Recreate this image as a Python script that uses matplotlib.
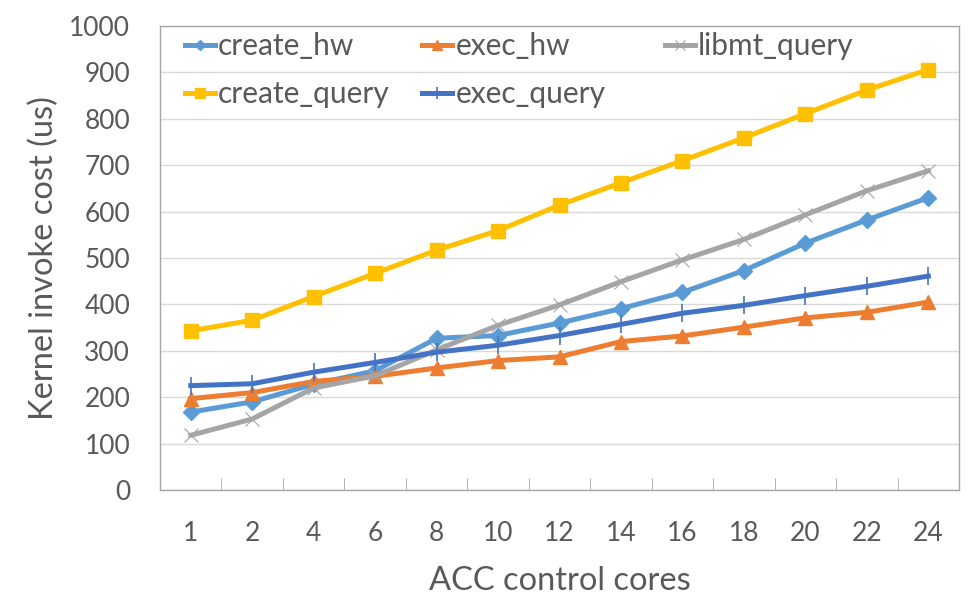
import numpy as np
import matplotlib
matplotlib.use("Agg")
import matplotlib.pyplot as plt

# ACC control cores (categorical x axis)
cores = ["1", "2", "4", "6", "8", "10", "12", "14", "16", "18", "20", "22", "24"]

create_hw = [168, 190, 228, 257, 327, 333, 360, 391, 426, 473, 532, 582, 630]
exec_hw = [197, 210, 234, 245, 263, 279, 287, 320, 332, 351, 371, 383, 405]
libmt_query = [118, 153, 220, 246, 302, 355, 399, 449, 496, 540, 593, 645, 688]
create_query = [343, 366, 417, 467, 517, 559, 614, 662, 710, 759, 811, 862, 906]
exec_query = [225, 229, 254, 275, 297, 312, 333, 357, 381, 398, 419, 439, 461]

plt.rcParams['font.family'] = ['Lato', 'DejaVu Sans']
txt = '#595959'

fig = plt.figure(figsize=(9.74, 6.16), dpi=100)
ax = fig.add_axes([0.1643, 0.2045, 0.9846 - 0.1643, 0.9578 - 0.2045])

x = np.arange(len(cores))
lw = 3.6
h1, = ax.plot(x, create_hw, color='#5B9BD5', lw=lw, marker='D', ms=8, label='create_hw')
h2, = ax.plot(x, exec_hw, color='#ED7D31', lw=lw, marker='^', ms=10, label='exec_hw')
h3, = ax.plot(x, libmt_query, color='#A5A5A5', lw=lw, marker='x', ms=10, mew=0.8, label='libmt_query')
h4, = ax.plot(x, create_query, color='#FFC000', lw=lw, marker='s', ms=10, label='create_query')
h5, = ax.plot(x, exec_query, color='#4472C4', lw=lw, marker='|', ms=13, mew=1.2, label='exec_query')

ax.set_xlim(-0.5, len(cores) - 0.5)
ax.set_ylim(0, 1000)
ax.set_yticks(np.arange(0, 1001, 100))
ax.set_xticks(x)
ax.set_xticklabels(cores)
ax.set_xticks(np.arange(0.5, len(cores) - 1, 1), minor=True)
ax.tick_params(axis='x', which='major', length=0, pad=22, labelsize=19, labelcolor=txt)
ax.tick_params(axis='x', which='minor', length=9, direction='in', color='#A6A6A6')
ax.tick_params(axis='y', length=0, pad=21.5, labelsize=19, labelcolor=txt)
ax.grid(axis='y', color='#D9D9D9', lw=1)
ax.set_axisbelow(True)
for s in ax.spines.values():
    s.set_color('#A6A6A6')
    s.set_linewidth(1)

ax.set_ylabel('Kernel invoke cost (us)', fontsize=23.5, color=txt, labelpad=7)
ax.set_xlabel('ACC control cores', fontsize=23.5, color=txt, labelpad=15)

leg_kw = dict(loc='upper left', frameon=False, fontsize=21.5, handlelength=1.0,
              handletextpad=0.1, labelspacing=0.67, borderaxespad=0, borderpad=0,
              markerscale=0.7, bbox_transform=fig.transFigure)
leg1 = ax.legend([h1, h4, h2, h5], ['create_hw', 'create_query', 'exec_hw', 'exec_query'],
                 ncol=2, columnspacing=1.1, bbox_to_anchor=(185 / 974, 1 - 32 / 616), **leg_kw)
leg2 = ax.legend([h3], ['libmt_query'], ncol=1,
                 bbox_to_anchor=(665 / 974, 1 - 32 / 616), **leg_kw)
ax.add_artist(leg1)
for lg in (leg1, leg2):
    for t in lg.get_texts():
        t.set_color(txt)

fig.savefig('out.png', dpi=100)
